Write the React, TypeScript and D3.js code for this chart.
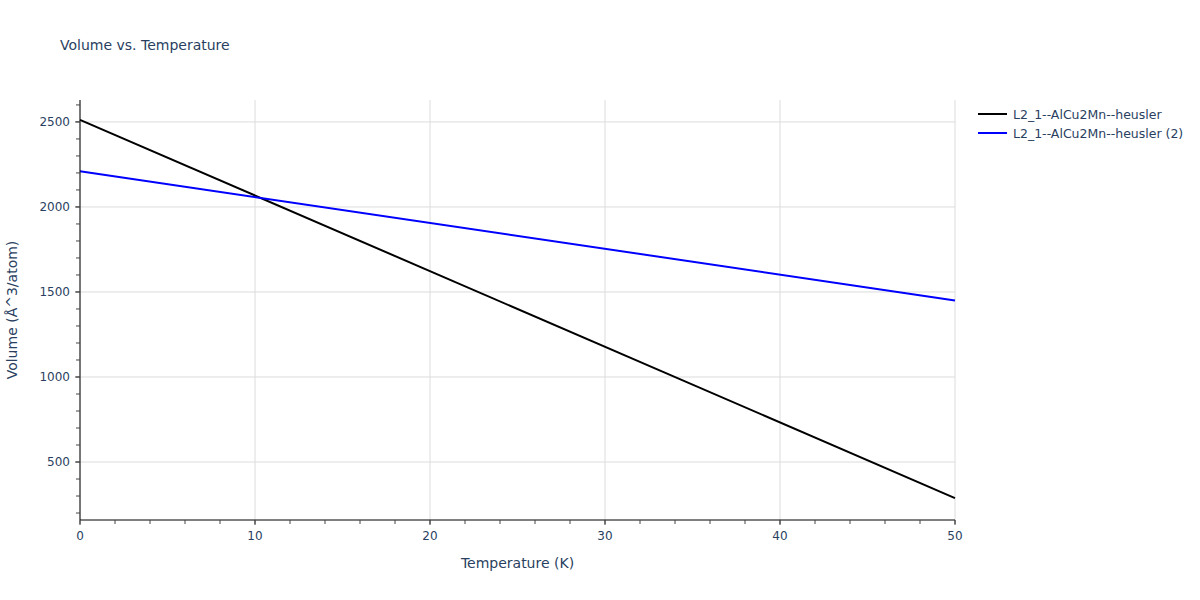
import React from "react";
import * as d3 from "d3";

const temps = [0, 50];
const seriesA = [2512, 288];
const seriesB = [2210, 1450];
const seriesNames = ["L2_1--AlCu2Mn--heusler", "L2_1--AlCu2Mn--heusler (2)"];
const seriesColors = ["#000000", "#0000ff"];
const xTicks = [0, 10, 20, 30, 40, 50];
const yTicks = [500, 1000, 1500, 2000, 2500];

const W = 1200, H = 600;
const left = 80, right = 955, top = 100, bottom = 520;
const font = "'DejaVu Sans', verdana, arial, sans-serif";
const txt = "#2a3f5f";

export default function App() {
  const x = d3.scaleLinear().domain([0, 50]).range([left, right]);
  const y = d3.scaleLinear().domain([159, 2629]).range([bottom, top]);
  const line = d3.line<[number, number]>().x(d => x(d[0])).y(d => y(d[1]));
  const series = [seriesA, seriesB];
  const xMinor = d3.range(0, 50.001, 2);
  const yMinor = d3.range(200, 2601, 100);
  return (
    <svg width={W} height={H} style={{ position: "absolute", left: 0, top: 0, background: "#fff" }} fontFamily={font}>
      <text x={60} y={50} fontSize={14} fill={txt}>Volume vs. Temperature</text>
      {xTicks.map(t => (
        <line key={"gx" + t} x1={x(t)} x2={x(t)} y1={top} y2={bottom} stroke="#dcdcdc" strokeWidth={1} />
      ))}
      {yTicks.map(t => (
        <line key={"gy" + t} x1={left} x2={right} y1={y(t)} y2={y(t)} stroke="#dcdcdc" strokeWidth={1} />
      ))}
      {series.map((s, i) => (
        <path key={i} d={line(temps.map((t, j) => [t, s[j]]) as [number, number][]) || ""} fill="none" stroke={seriesColors[i]} strokeWidth={2} />
      ))}
      <line x1={left} x2={left} y1={top} y2={bottom} stroke="#000" strokeWidth={1} />
      <line x1={left} x2={right} y1={bottom} y2={bottom} stroke="#000" strokeWidth={1} />
      {xMinor.map(t => (
        <line key={"mx" + t} x1={x(t)} x2={x(t)} y1={bottom} y2={bottom + 4} stroke="#444" strokeWidth={1} />
      ))}
      {yMinor.map(t => (
        <line key={"my" + t} x1={left - 4} x2={left} y1={y(t)} y2={y(t)} stroke="#444" strokeWidth={1} />
      ))}
      {xTicks.map(t => (
        <g key={"tx" + t}>
          <line x1={x(t)} x2={x(t)} y1={bottom} y2={bottom + 5} stroke="#444" />
          <text x={x(t)} y={bottom + 20} fontSize={12} fill={txt} textAnchor="middle">{t}</text>
        </g>
      ))}
      {yTicks.map(t => (
        <g key={"ty" + t}>
          <line x1={left - 5} x2={left} y1={y(t)} y2={y(t)} stroke="#444" />
          <text x={left - 10} y={y(t) + 4} fontSize={12} fill={txt} textAnchor="end">{t}</text>
        </g>
      ))}
      <text x={(left + right) / 2} y={568} fontSize={14} fill={txt} textAnchor="middle">Temperature (K)</text>
      <text transform={`translate(17,${(top + bottom) / 2}) rotate(-90)`} fontSize={14} fill={txt} textAnchor="middle">Volume (Å^3/atom)</text>
      {seriesNames.map((n, i) => (
        <g key={"lg" + i} transform={`translate(978,${114 + i * 19})`}>
          <line x1={0} x2={29} y1={0} y2={0} stroke={seriesColors[i]} strokeWidth={2} />
          <text x={35} y={4.5} fontSize={12.5} fill={txt}>{n}</text>
        </g>
      ))}
    </svg>
  );
}
